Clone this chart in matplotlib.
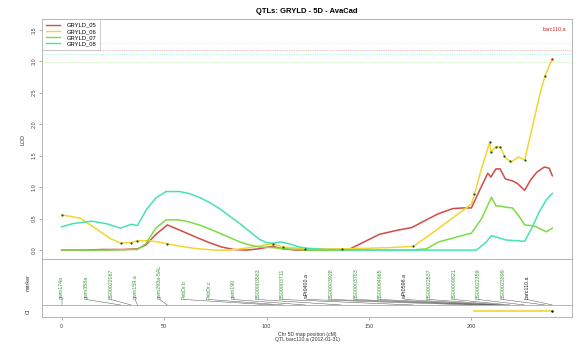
import numpy as np
import matplotlib
matplotlib.use('Agg')
import matplotlib.pyplot as plt

plt.rcParams['font.family'] = ['Liberation Sans', 'DejaVu Sans']

# LOD profiles along chromosome 5D (cM, LOD)
x05 = [0, 10, 20, 30, 37, 41, 46, 51.6, 56, 61, 66, 72, 78, 84, 90, 96, 103, 108, 115, 125,
       133, 139.5, 147, 155, 163, 171, 178, 184, 191, 196, 200, 204, 208, 209.5, 212, 214,
       216.6, 220, 222.4, 226, 229, 232, 235.6, 238, 239.5]
y05 = [0.0, 0.0, 0.01, 0.01, 0.02, 0.08, 0.25, 0.40, 0.34, 0.27, 0.20, 0.12, 0.05, 0.01, 0.0,
       0.02, 0.06, 0.02, 0.0, 0.0, 0.0, 0.0, 0.12, 0.25, 0.31, 0.36, 0.48, 0.58, 0.66, 0.67,
       0.67, 0.95, 1.22, 1.16, 1.29, 1.29, 1.13, 1.10, 1.06, 0.95, 1.12, 1.24, 1.32, 1.30, 1.18]

x06 = [0, 8.8, 15, 23.4, 28.8, 34, 37, 42, 47, 51.6, 58, 67, 75, 82, 90, 97, 103, 108, 120,
       136.6, 150, 160, 171.7, 180, 190, 200, 201.5, 205, 209, 209.5, 212, 214, 216.6, 219.5,
       223, 226, 229, 231.7, 234, 236, 239.5]
y06 = [0.56, 0.51, 0.38, 0.19, 0.11, 0.12, 0.15, 0.15, 0.13, 0.10, 0.06, 0.02, 0.0, 0.0, 0.03,
       0.07, 0.10, 0.05, 0.02, 0.02, 0.03, 0.04, 0.06, 0.25, 0.49, 0.73, 0.89, 1.30, 1.72, 1.56,
       1.64, 1.64, 1.46, 1.40, 1.48, 1.43, 1.85, 2.23, 2.55, 2.77, 3.04]

x07 = [0, 20, 37, 41, 46, 51, 57, 62, 67, 72, 77, 82, 87, 92, 96.6, 103, 110, 120, 150, 170,
       178, 184, 192, 200, 205, 209.8, 212, 214, 217, 220, 223, 226, 229, 231.7, 236.6, 239.5]
y07 = [0.0, 0.0, 0.01, 0.1, 0.35, 0.48, 0.48, 0.45, 0.40, 0.34, 0.27, 0.20, 0.13, 0.08, 0.05,
       0.04, 0.02, 0.0, 0.0, 0.0, 0.02, 0.13, 0.20, 0.27, 0.50, 0.84, 0.70, 0.70, 0.68, 0.67,
       0.55, 0.40, 0.39, 0.37, 0.29, 0.35]

x08 = [0, 5.4, 14.6, 21.8, 28.7, 34, 37, 41.3, 46, 51, 57.6, 62, 67, 72, 77, 82, 87, 92, 96.6,
       100, 103, 107, 111, 116, 120, 129, 150, 180, 202.4, 207, 209.8, 212, 217, 222, 226,
       229.8, 233, 236.6, 239.5]
y08 = [0.37, 0.42, 0.46, 0.42, 0.35, 0.41, 0.39, 0.64, 0.83, 0.93, 0.93, 0.90, 0.84, 0.76, 0.66,
       0.54, 0.42, 0.29, 0.17, 0.12, 0.11, 0.13, 0.10, 0.05, 0.03, 0.01, 0.0, 0.0, 0.0, 0.12,
       0.23, 0.21, 0.16, 0.15, 0.14, 0.37, 0.60, 0.80, 0.90]

traits = ['GRYLD_05', 'GRYLD_06', 'GRYLD_07', 'GRYLD_08']
colors = ['#d24b45', '#f0d632', '#7ddc43', '#45e3b4']
thresholds = [3.18, 3.29, 2.99, 3.12]

# genetic map
markers = ['gwm174a', 'gwm358a', 'BS00022067', 'gwm159.a', 'gwm293a-5AL', 'PebDr.b', 'PebDr.c',
           'gwm190', 'BS00003563', 'BS00003711', 'wPt0400.a', 'BS00003928', 'BS00003783',
           'BS00004965', 'wPt0598.a', 'BS00022537', 'BS00009821', 'BS00022359', 'BS00023899',
           'barc110.a']
marker_pos = [0, 28.8, 34, 37, 51.6, 103, 108, 119, 136.6, 171.7, 201.5, 209, 209.5, 212, 214,
              216, 219, 226, 236, 239.5]
marker_col = ['#3a9a3a'] * 10 + ['#222222'] + ['#3a9a3a'] * 3 + ['#222222'] + ['#3a9a3a'] * 4 + ['#222222']

qtl_name = 'barc110.a'
ci_left, ci_right = 201.5, 239.5

frame = '#a8a8a8'
xlim = (-9.58, 249.1)

fig = plt.figure(figsize=(5.82, 3.52), dpi=100)
ax = fig.add_axes([0.0722, 0.2642, 0.9106, 0.6818])
axm = fig.add_axes([0.0722, 0.1335, 0.9106, 0.1307])
axc = fig.add_axes([0.0722, 0.0994, 0.9106, 0.0341])

series = [(x05, y05), (x06, y06), (x07, y07), (x08, y08)]
for (xs, ys), name, c in zip(series, traits, colors):
    ax.plot(xs, ys, color=c, lw=1.1, label=name)
for t, c in zip(thresholds, colors):
    ax.axhline(t, color=c, lw=0.5, ls=(0, (1, 1.5)), alpha=0.7)

# marker dots on the peak trait
dot_y = np.interp(marker_pos, x06, y06)
ax.scatter(marker_pos[:-1], dot_y[:-1], s=2.5, color='#1d4a1d', zorder=5, lw=0)
ax.scatter(marker_pos[-1:], dot_y[-1:], s=3, color='#d02020', zorder=5, lw=0)
ax.text(xlim[1] - 3, 3.51, qtl_name, color='#d02020', fontsize=3.8, ha='right', va='center')

ax.set_xlim(*xlim)
ax.set_ylim(-0.141, 3.67)
ax.set_yticks(np.arange(0, 3.6, 0.5))
ax.set_yticklabels(['%.1f' % v for v in np.arange(0, 3.6, 0.5)], rotation=90, va='center')
ax.set_xticks([])
ax.tick_params(axis='y', labelsize=4.0, length=2, width=0.4, color='#777777',
               labelcolor='#444444', pad=2)
ax.set_ylabel('LOD', fontsize=3.9, color='#333333', labelpad=4)
ax.set_title('QTLs: GRYLD - 5D - AvaCad', fontsize=5.5, fontweight='bold', pad=4)
for s in ax.spines.values():
    s.set_color(frame)
    s.set_linewidth(0.6)
leg = ax.legend(loc='upper left', fontsize=4.2, frameon=True, fancybox=False, borderpad=0.6,
                handlelength=2.4, handletextpad=1.2, labelspacing=0.2, borderaxespad=0)
leg.get_frame().set_edgecolor(frame)
leg.get_frame().set_linewidth(0.5)
for h in leg.get_lines():
    h.set_linewidth(1.0)

# marker panel: labels spread evenly, joined to their map positions
label_x = np.linspace(0, 227.3, len(markers))
for lx, px, name, c in zip(label_x, marker_pos, markers, marker_col):
    axm.text(lx, 0.14, name, rotation=90, fontsize=3.8, color=c, ha='center', va='bottom')
    axm.plot([lx, px], [0.12, 0.0], color='#555555', lw=0.35)
axm.set_xlim(*xlim)
axm.set_ylim(0, 1)
axm.set_xticks([])
axm.set_yticks([])
axm.set_ylabel('marker', fontsize=3.9, color='#333333', labelpad=8)
for s in axm.spines.values():
    s.set_color(frame)
    s.set_linewidth(0.6)

# confidence interval of the QTL
axc.plot([ci_left, ci_right], [0.5, 0.5], color=colors[1], lw=1.2)
axc.scatter([ci_right], [0.5], s=3, color='black', zorder=5, lw=0)
axc.set_xlim(*xlim)
axc.set_ylim(0, 1)
axc.set_yticks([])
axc.set_xticks([0, 50, 100, 150, 200])
axc.tick_params(axis='x', labelsize=4.0, length=2, width=0.4, color='#777777',
                labelcolor='#444444', pad=3)
axc.set_ylabel('CI', fontsize=3.9, color='#333333', labelpad=8, rotation=90)
axc.set_xlabel('Chr 5D map position (cM)\nQTL barc110.a (2012-01-31)', fontsize=3.7,
               color='#333333', labelpad=2, linespacing=1.1)
for s in axc.spines.values():
    s.set_color(frame)
    s.set_linewidth(0.6)

fig.savefig('out.png', dpi=100, facecolor='white')
